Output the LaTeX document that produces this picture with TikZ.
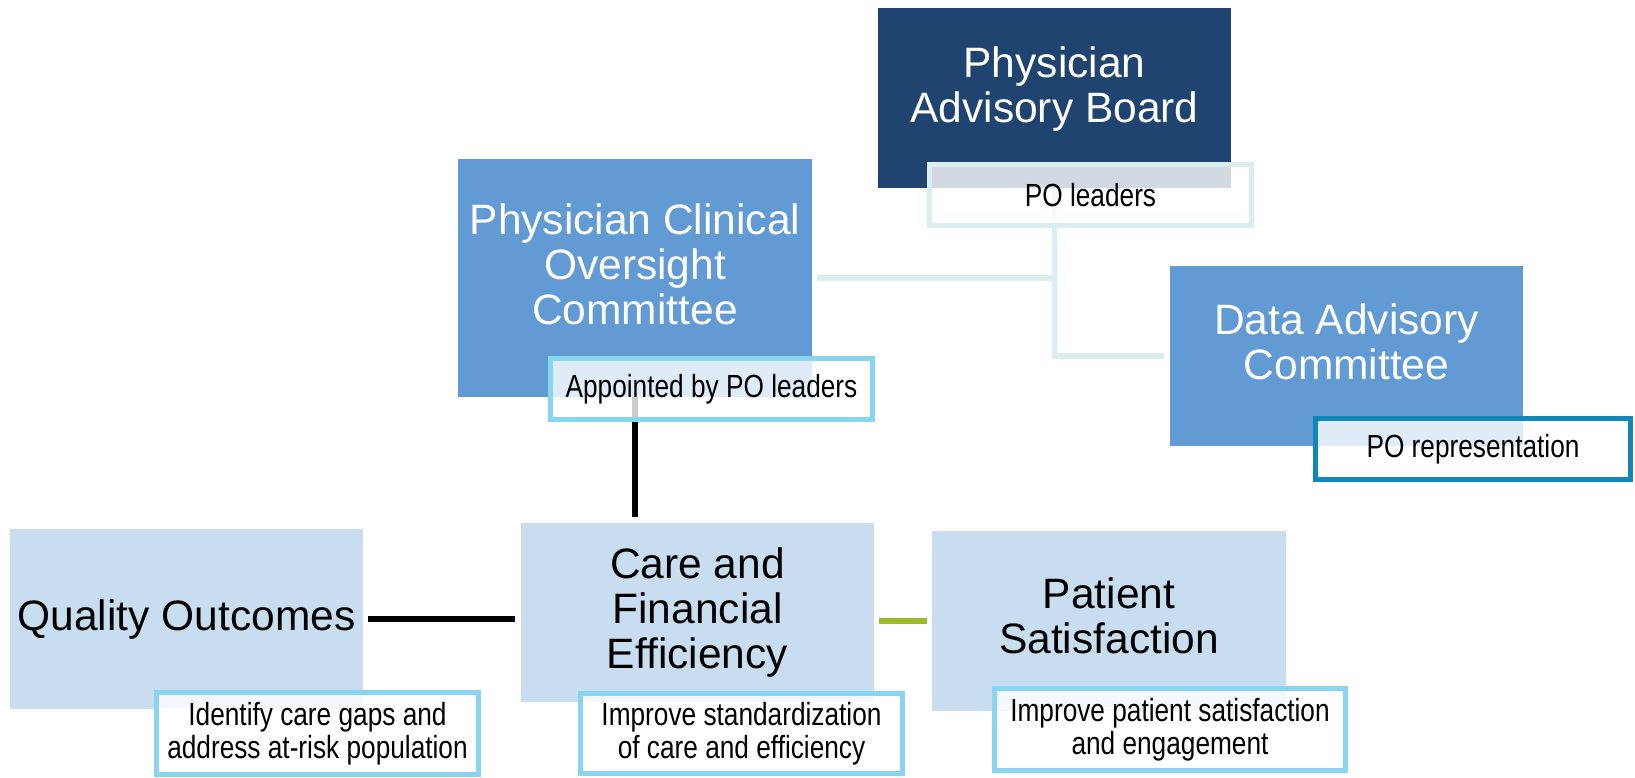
\documentclass[tikz,border=0pt]{standalone}
\usepackage{fontspec}
\setmainfont{Liberation Sans}
\newfontfamily\narrowfont[FakeStretch=0.82]{Liberation Sans}
\usetikzlibrary{calc}

\definecolor{boardblue}{HTML}{1F4470}
\definecolor{committeeblue}{HTML}{629BD4}
\definecolor{goalblue}{HTML}{C8DDF0}
\definecolor{paleteal}{HTML}{DAEEF0}
\definecolor{skyline}{HTML}{89D4EE}
\definecolor{tealline}{HTML}{0F87B8}
\definecolor{leafgreen}{HTML}{9BBB2B}

\begin{document}
\begin{tikzpicture}[
    x=1pt, y=-1pt,
    box/.style={fill=#1, inner sep=0pt, minimum width=353pt, minimum height=180pt},
    boxtext/.style={font=\fontsize{42.5}{45}\selectfont, align=center, inner sep=0pt, text=#1},
    note/.style={draw=#1, line width=5pt, fill=white, fill opacity=0.8, text opacity=1, inner sep=0pt,
        minimum width=322pt, minimum height=61pt, align=center, font=\narrowfont\fontsize{32}{33}\selectfont},
    link/.style={draw=#1, line width=5.5pt},
]
    \useasboundingbox (0,0) rectangle (1635,778);

    % Board and committees
    \node[box=boardblue] (pab) at (1054.5,98) {};
    \node[box=committeeblue, minimum width=354pt, minimum height=238pt] (pcoc) at (635,278) {};
    \node[box=committeeblue] (dac) at (1346.5,356) {};
    \node[boxtext=white] (pabtext) at ($(pab.center)+(0,-8.5)$) {Physician\\Advisory Board};
    \node[boxtext=white] (pcoctext) at ($(pcoc.center)+(0,-14)$) {Physician Clinical\\Oversight\\Committee};
    \node[boxtext=white] (dactext) at ($(dac.center)+(0,-14.5)$) {Data Advisory\\Committee};

    % Goals
    \node[box=goalblue] (qual) at (186.5,619) {};
    \node[box=goalblue, minimum height=179pt] (care) at (697.5,612.5) {};
    \node[box=goalblue, minimum width=354pt] (pat) at (1109,621) {};
    \node[boxtext=black] (qualtext) at ($(qual.center)+(0,1)$) {Quality Outcomes};
    \node[boxtext=black] (caretext) at (care.center) {Care and\\Financial\\Efficiency};
    \node[boxtext=black] (pattext) at ($(pat.center)+(0,-5)$) {Patient\\Satisfaction};

    % Reporting lines
    \draw[link=paleteal] (pab.south) -- (pab.south |- dac.west) coordinate (fork) -- ([xshift=-6pt]dac.west);
    \draw[link=paleteal] (pab.south |- pcoc.east) -- ([xshift=5pt]pcoc.east);
    \draw[link=black, line width=6pt, shorten >=6pt] (pcoc.south) -- (pcoc.south |- care.north);
    \draw[link=black, line width=6pt, shorten <=5pt, shorten >=6pt] (qual.east) -- (qual.east -| care.west);
    \draw[link=leafgreen, shorten <=5pt, shorten >=5pt] (pat.west -| care.east) -- (pat.west);

    % Notes under each box
    \node[note=paleteal] (pabnote) at (1090.5,195) {PO leaders};
    \node[note=skyline] (pcocnote) at (711.5,389) {Appointed by PO leaders};
    \node[note=tealline, minimum width=315pt] (dacnote) at (1473,449) {PO representation};
    \node[note=skyline, minimum height=82pt] (qualnote) at (317.5,733.5) {Identify care gaps and\\address at-risk population};
    \node[note=skyline, minimum height=80pt] (carenote) at (741.5,733.5) {Improve standardization\\of care and efficiency};
    \node[note=skyline, minimum width=351pt, minimum height=82pt] (patnote) at (1170,729.5) {Improve patient satisfaction\\and engagement};
\end{tikzpicture}
\end{document}
